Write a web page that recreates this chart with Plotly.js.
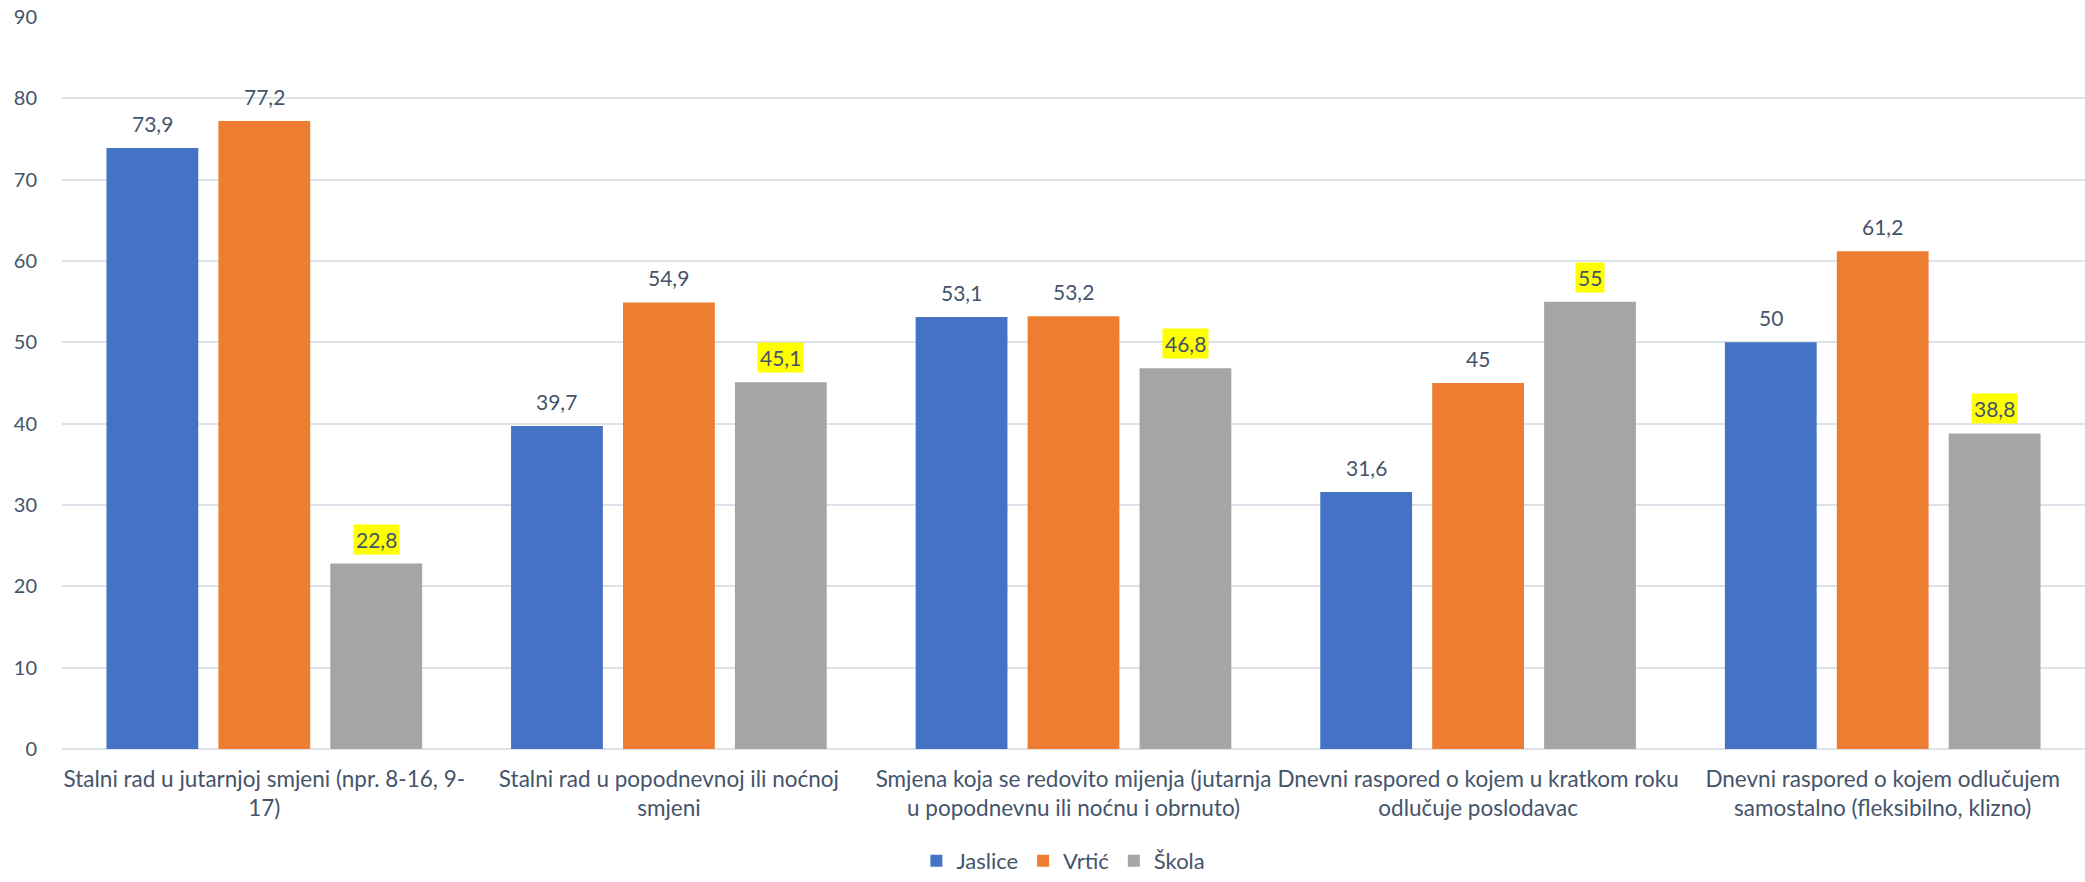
<!DOCTYPE html>
<html>
<head>
<meta charset="utf-8">
<script src="https://cdn.plot.ly/plotly-3.0.1.min.js"></script>
<style>html,body{margin:0;padding:0;background:#fff;}#chart{width:2085px;height:882px;}</style>
</head>
<body>
<div id="chart"></div>
<script>
var categories = [
  "Stalni rad u jutarnjoj smjeni (npr. 8-16, 9-<br>17)",
  "Stalni rad u popodnevnoj ili noćnoj<br>smjeni",
  "Smjena koja se redovito mijenja (jutarnja<br>u popodnevnu ili noćnu i obrnuto)",
  "Dnevni raspored o kojem u kratkom roku<br>odlučuje poslodavac",
  "Dnevni raspored o kojem odlučujem<br>samostalno (fleksibilno, klizno)"
];
var seriesNames = ["Jaslice", "Vrtić", "Škola"];
var jaslice = [73.9, 39.7, 53.1, 31.6, 50];
var vrtic = [77.2, 54.9, 53.2, 45, 61.2];
var skola = [22.8, 45.1, 46.8, 55, 38.8];
var yTicks = [0, 10, 20, 30, 40, 50, 60, 70, 80, 90];

var colors = ["#4472C4", "#ED7D31", "#A5A5A5"];
var textColor = "#44546A";
var fontFam = "Lato, 'Open Sans', sans-serif";

var W = 2085, H = 882;
var margin = {l: 62, r: 0, t: 17, b: 125};
var bargap = 0.17;
var plotW = W - margin.l - margin.r;
var slot = plotW / categories.length * (1 - bargap) / 3;

var allSeries = [jaslice, vrtic, skola];
function fmt(v){ return String(v).replace('.', ','); }

var traces = allSeries.map(function(vals, i){
  return {
    type: 'bar', name: seriesNames[i], x: categories, y: vals,
    marker: {color: colors[i]}, hoverinfo: 'none'
  };
});

var annotations = [];
allSeries.forEach(function(vals, i){
  vals.forEach(function(v, j){
    var a = {
      x: categories[j], y: v, xref: 'x', yref: 'y',
      text: fmt(v), showarrow: false, yanchor: 'bottom',
      xshift: (i - 1) * slot, yshift: 9, borderpad: 2,
      font: {family: fontFam, size: 21, color: textColor}
    };
    if (i === 2) { a.bgcolor = '#FFFF00'; }
    annotations.push(a);
  });
});

var layout = {
  width: W, height: H, margin: margin,
  paper_bgcolor: '#fff', plot_bgcolor: '#fff',
  barmode: 'group', bargap: bargap, bargroupgap: 0.18,
  font: {family: fontFam, size: 22, color: textColor},
  xaxis: {
    type: 'category', showgrid: false, showline: false, zeroline: false,
    ticks: '', ticklabelstandoff: 14,
    tickfont: {family: fontFam, size: 22.5, color: textColor}, tickangle: 0
  },
  yaxis: {
    range: [0, 90], tickvals: yTicks, ticktext: yTicks.map(String),
    showgrid: true, gridcolor: '#DDE2EA', gridwidth: 2,
    zeroline: true, zerolinecolor: '#DDE2EA', zerolinewidth: 2,
    showline: false, ticks: '', ticklabelstandoff: 24,
    tickfont: {family: fontFam, size: 20, color: textColor}
  },
  showlegend: true,
  legend: {
    orientation: 'h', x: 0.495, xanchor: 'center', y: -0.153, yanchor: 'middle',
    font: {family: fontFam, size: 22, color: textColor}, itemwidth: 30, traceorder: 'normal'
  },
  annotations: annotations
};

Plotly.newPlot('chart', traces, layout, {displayModeBar: false, staticPlot: true});
</script>
</body>
</html>
